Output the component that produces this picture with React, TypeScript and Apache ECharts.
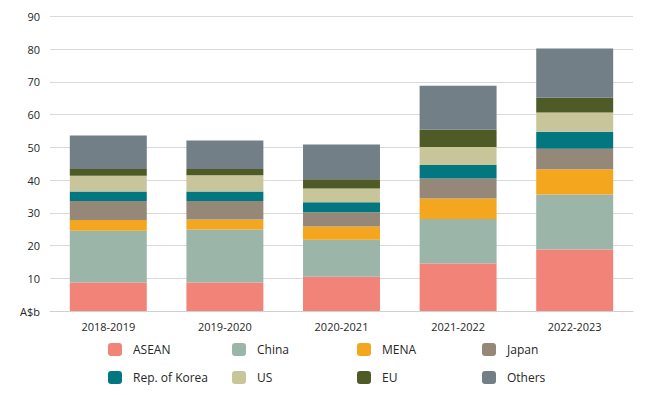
import React, { useEffect, useRef } from "react";
import * as echarts from "echarts";

const categories = ["2018-2019", "2019-2020", "2020-2021", "2021-2022", "2022-2023"];
const seriesNames = ["ASEAN", "China", "MENA", "Japan", "Rep. of Korea", "US", "EU", "Others"];
const asean = [8.7, 8.7, 10.5, 14.5, 18.8];
const china = [15.8, 16.2, 11.3, 13.6, 16.8];
const mena = [3.3, 3.1, 4.0, 6.3, 7.7];
const japan = [5.8, 5.6, 4.4, 6.1, 6.3];
const korea = [2.9, 2.9, 3.0, 4.1, 5.2];
const us = [4.8, 5.0, 4.2, 5.5, 5.9];
const eu = [2.1, 1.9, 2.9, 5.3, 4.5];
const others = [10.2, 8.7, 10.6, 13.4, 15.0];
const seriesValues = [asean, china, mena, japan, korea, us, eu, others];
const colors = ["#F28378", "#9BB5A9", "#F3A61E", "#968878", "#037780", "#C9C59B", "#4E5B26", "#727F86"];

const legendCols = [108, 232, 357, 482];
const legendRows = [343, 371];

export default function App() {
  const ref = useRef<HTMLDivElement>(null);
  useEffect(() => {
    if (!ref.current) return;
    const chart = echarts.init(ref.current, null, { renderer: "svg" });
    const font = "'Open Sans', sans-serif";
    chart.setOption({
      animation: false,
      textStyle: { fontFamily: font },
      grid: { left: 50, right: 25, top: 16.5, bottom: 84, containLabel: false },
      legend: seriesNames.map((name, i) => ({
        data: [name],
        left: legendCols[i % 4],
        top: legendRows[Math.floor(i / 4)],
        itemWidth: 14,
        itemHeight: 13,
        padding: 0,
        selectedMode: false,
        textStyle: { fontFamily: font, fontSize: 12, color: "#262626", padding: [0, 0, 0, 6] },
      })),
      xAxis: {
        type: "category",
        data: categories,
        axisLine: { show: true, lineStyle: { color: "#d0d0d0", width: 1 } },
        axisTick: { show: false },
        axisLabel: { fontFamily: font, fontSize: 11, color: "#262626", margin: 10 },
      },
      yAxis: {
        type: "value",
        min: 0,
        max: 90,
        interval: 10,
        axisLine: { show: false },
        axisTick: { show: false },
        splitLine: { lineStyle: { color: "#d9d9d9", width: 1 } },
        axisLabel: {
          fontFamily: font,
          fontSize: 11,
          color: "#262626",
          margin: 10,
          formatter: (v: number) => (v === 0 ? "A$b" : String(v)),
        },
      },
      series: seriesNames.map((name, i) => ({
        name,
        type: "bar",
        stack: "total",
        data: seriesValues[i],
        barWidth: "66%",
        itemStyle: { color: colors[i] },
      })),
    });
    return () => chart.dispose();
  }, []);
  return <div ref={ref} style={{ width: 658, height: 395, position: "absolute", left: 0, top: 0 }} />;
}
